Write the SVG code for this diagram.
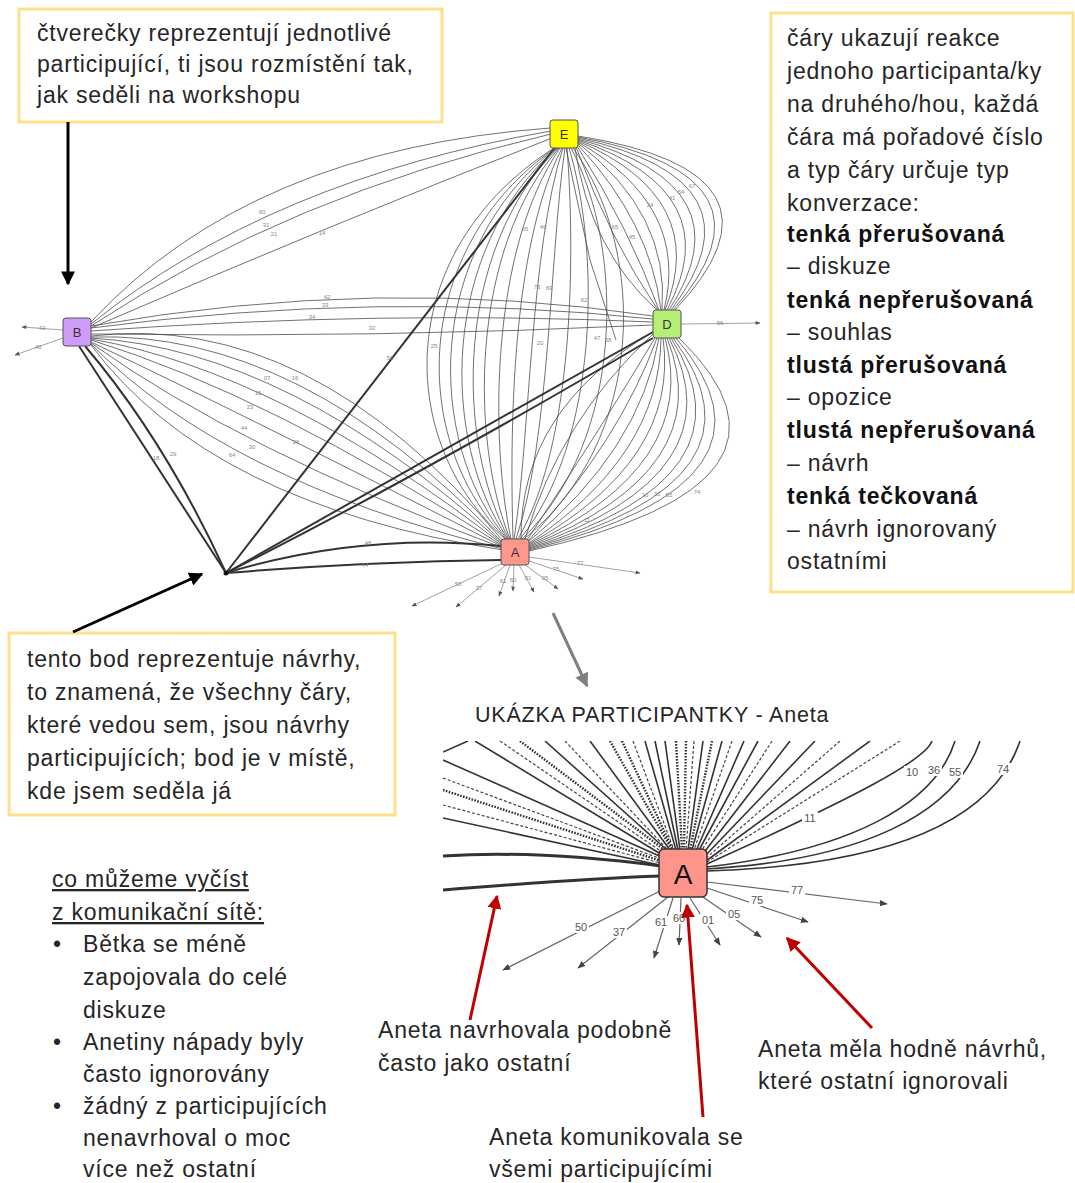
<svg xmlns="http://www.w3.org/2000/svg" width="1075" height="1183" viewBox="0 0 1075 1183">
  <defs>
    <style>
      .note { fill: #fff; stroke: #FFE08A; stroke-width: 3; }
      .txt { font-family: "Liberation Sans", Arial, sans-serif; font-size: 23px; letter-spacing: 0.8px; fill: #262626; }
      .b { font-weight: bold; fill: #111; }
      .e { fill: none; stroke: #444; stroke-width: 0.9; stroke-opacity: 0.85; }
      .et { fill: none; stroke: #333; stroke-width: 2; }
      .eo { fill: none; stroke: #888; stroke-width: 0.8; }
      .lbl { font-family: "Liberation Sans", Arial, sans-serif; font-size: 6px; fill: #888; text-anchor: middle; }
      .node { stroke: #555; stroke-width: 1; }
      .nl { font-family: "Liberation Sans", Arial, sans-serif; font-size: 13px; fill: #333; text-anchor: middle; }
      .ann { fill: none; stroke: #000; stroke-width: 3; }
      .red { fill: none; stroke: #C00000; stroke-width: 3; }
      .i { fill: none; stroke: #333; stroke-width: 1.6; }
      .id { fill: none; stroke: #333; stroke-width: 2.4; stroke-dasharray: 1.6 1.4; }
      .it { fill: none; stroke: #444; stroke-width: 1.2; stroke-dasharray: 3 2; }
      .io { fill: none; stroke: #666; stroke-width: 1.2; }
      .il { font-family: "Liberation Sans", Arial, sans-serif; font-size: 11px; fill: #555; text-anchor: middle; opacity: 0.99; }
      .ilb { fill: #fff; }
    </style>
    <marker id="ah" viewBox="0 0 10 10" refX="9" refY="5" markerWidth="14" markerHeight="14" markerUnits="userSpaceOnUse" orient="auto">
      <path d="M0,0 L10,5 L0,10 z" fill="#000"/>
    </marker>
    <marker id="ahr" viewBox="0 0 10 10" refX="9" refY="5" markerWidth="14" markerHeight="14" markerUnits="userSpaceOnUse" orient="auto">
      <path d="M0,0 L10,5 L0,10 z" fill="#C00000"/>
    </marker>
    <marker id="ahg" viewBox="0 0 10 10" refX="9" refY="5" markerWidth="14" markerHeight="14" markerUnits="userSpaceOnUse" orient="auto">
      <path d="M0,0 L10,5 L0,10 z" fill="#808080"/>
    </marker>
    <marker id="sm" viewBox="0 0 10 10" refX="9" refY="5" markerWidth="5" markerHeight="5" markerUnits="userSpaceOnUse" orient="auto">
      <path d="M0,1 L10,5 L0,9 z" fill="#555"/>
    </marker>
    <marker id="ism" viewBox="0 0 10 10" refX="9" refY="5" markerWidth="8" markerHeight="8" markerUnits="userSpaceOnUse" orient="auto">
      <path d="M0,1 L10,5 L0,9 z" fill="#444"/>
    </marker>
    <clipPath id="insetClip">
      <rect x="443" y="741" width="580" height="240"/>
    </clipPath>
  </defs>

  <rect width="1075" height="1183" fill="#fff"/>

  <!-- network connectors -->
  <g id="connectors">
    <!-- B to E, upper arcs -->
    <path class="e" d="M91,322 Q250,150 550,128"/>
    <path class="e" d="M91,324 Q270,180 551,131"/>
    <path class="e" d="M91,326 Q290,195 551,134"/>
    <path class="e" d="M91,328 Q330,225 552,138"/>
    <!-- B to D, long flat curves -->
    <path class="e" d="M91,326 Q380,275 653,316"/>
    <path class="e" d="M91,328 Q380,290 653,319"/>
    <path class="e" d="M91,331 Q380,310 653,322"/>
    <path class="e" d="M91,334 Q380,338 653,325"/>
    <!-- B to A -->
    <path class="e" d="M91,336 Q310,310 503,541"/>
    <path class="e" d="M91,337 Q300,330 503,543"/>
    <path class="e" d="M91,338 Q290,350 503,544"/>
    <path class="e" d="M91,339 Q280,372 503,545"/>
    <path class="e" d="M91,340 Q270,395 503,546"/>
    <path class="e" d="M91,342 Q255,420 503,547"/>
    <path class="e" d="M91,343 Q240,450 503,548"/>
    <path class="e" d="M91,344 Q225,480 503,549"/>
    <path class="e" d="M91,345 Q210,505 503,550"/>
    <!-- B to proposal point -->
    <path class="et" d="M79,346 L226,573"/>
    <path class="et" d="M85,346 Q165,440 226,573"/>
    <!-- B outgoing -->
    <path class="eo" d="M63,330 L22,327" marker-end="url(#sm)"/>
    <path class="eo" d="M63,338 L15,355" marker-end="url(#sm)"/>

    <!-- E to proposal point -->
    <path class="et" d="M556,146 L226,573"/>

    <!-- E to A -->
    <path class="e" d="M554,148 C394,250 394,440 505,539"/>
    <path class="e" d="M555,148 C410,250 410,440 506,539"/>
    <path class="e" d="M556,148 C425,250 425,440 507,539"/>
    <path class="e" d="M557,148 C440,250 440,440 508,539"/>
    <path class="e" d="M558,148 C455,250 455,440 509,539"/>
    <path class="e" d="M559,148 C470,250 470,440 510,539"/>
    <path class="e" d="M560,148 C490,250 490,440 511,539"/>
    <path class="e" d="M562,148 C510,250 510,440 513,539"/>
    <path class="e" d="M563,148 C530,250 530,440 514,539"/>
    <path class="e" d="M565,148 C550,250 550,440 516,539"/>
    <path class="e" d="M567,148 C575,250 575,440 518,539"/>
    <path class="e" d="M569,148 C600,250 600,440 520,539"/>
    <path class="e" d="M571,148 C625,250 625,440 522,539"/>
    <path class="e" d="M573,148 C647,250 647,440 524,539"/>
    <path class="e" d="M566,148 L590,260 L616,340"/>

    <!-- E to D -->
    <path class="e" d="M575,148 Q590,250 657,310"/>
    <path class="e" d="M576,147 Q610,240 658,310"/>
    <path class="e" d="M577,146 Q630,230 659,310"/>
    <path class="e" d="M578,145 Q650,222 661,310"/>
    <path class="e" d="M578,143 Q670,214 662,310"/>
    <path class="e" d="M578,142 Q690,206 664,310"/>
    <path class="e" d="M578,141 Q710,198 665,310"/>
    <path class="e" d="M578,140 Q730,192 667,310"/>
    <path class="e" d="M578,139 Q750,186 669,310"/>
    <path class="e" d="M578,138 Q770,180 671,310"/>
    <path class="e" d="M578,137 Q790,176 673,310"/>
    <path class="e" d="M578,136 Q805,172 675,310"/>

    <!-- D to A -->
    <path class="e" d="M655,338 Q600,430 527,540"/>
    <path class="e" d="M657,338 Q620,440 528,541"/>
    <path class="e" d="M659,338 Q640,450 528,542"/>
    <path class="e" d="M661,338 Q660,455 529,543"/>
    <path class="e" d="M663,338 Q680,460 529,544"/>
    <path class="e" d="M665,338 Q700,465 529,545"/>
    <path class="e" d="M667,338 Q720,470 529,546"/>
    <path class="e" d="M669,338 Q740,474 529,547"/>
    <path class="e" d="M671,338 Q760,478 529,548"/>
    <path class="e" d="M673,338 Q780,480 529,549"/>
    <path class="e" d="M676,338 Q800,482 529,550"/>
    <path class="e" d="M679,338 Q830,484 529,551"/>
    <path class="e" d="M653,334 Q560,420 525,539"/>
    <path class="e" d="M653,332 Q520,410 521,539"/>

    <!-- D to proposal point -->
    <path class="et" d="M653,332 L226,573"/>
    <path class="et" d="M653,338 Q430,470 226,573"/>
    <!-- D outgoing -->
    <path class="eo" d="M681,324 L760,323" marker-end="url(#sm)"/>

    <!-- A to proposal point -->
    <path class="et" d="M501,546 Q360,532 226,573"/>
    <path class="et" d="M501,560 Q360,562 226,573"/>

    <!-- A outgoing -->
    <path class="eo" d="M503,563 L412,606" marker-end="url(#sm)"/>
    <path class="eo" d="M506,565 L456,607" marker-end="url(#sm)"/>
    <path class="eo" d="M510,565 L499,596" marker-end="url(#sm)"/>
    <path class="eo" d="M514,565 L513,591" marker-end="url(#sm)"/>
    <path class="eo" d="M519,565 L534,592" marker-end="url(#sm)"/>
    <path class="eo" d="M524,564 L558,589" marker-end="url(#sm)"/>
    <path class="eo" d="M529,561 L583,579" marker-end="url(#sm)"/>
    <path class="eo" d="M529,557 L640,573" marker-end="url(#sm)"/>
    <circle cx="226" cy="573" r="2.5" fill="#111"/>
  </g>

  <!-- connector labels -->
  <g id="edge-labels">
    <text class="lbl" x="262" y="214">60</text>
    <text class="lbl" x="266" y="227">31</text>
    <text class="lbl" x="274" y="236">21</text>
    <text class="lbl" x="322" y="235">14</text>
    <text class="lbl" x="327" y="299">42</text>
    <text class="lbl" x="325" y="307">33</text>
    <text class="lbl" x="312" y="319">34</text>
    <text class="lbl" x="372" y="330">32</text>
    <text class="lbl" x="267" y="380">07</text>
    <text class="lbl" x="295" y="380">16</text>
    <text class="lbl" x="258" y="395">15</text>
    <text class="lbl" x="250" y="409">23</text>
    <text class="lbl" x="244" y="430">44</text>
    <text class="lbl" x="296" y="444">26</text>
    <text class="lbl" x="252" y="449">30</text>
    <text class="lbl" x="232" y="457">64</text>
    <text class="lbl" x="156" y="460">18</text>
    <text class="lbl" x="173" y="456">29</text>
    <text class="lbl" x="42" y="330">43</text>
    <text class="lbl" x="38" y="349">40</text>
    <text class="lbl" x="390" y="360">56</text>
    <text class="lbl" x="720" y="325">56</text>
    <text class="lbl" x="434" y="348">25</text>
    <text class="lbl" x="540" y="345">20</text>
    <text class="lbl" x="597" y="340">47</text>
    <text class="lbl" x="608" y="342">58</text>
    <text class="lbl" x="537" y="289">73</text>
    <text class="lbl" x="549" y="290">69</text>
    <text class="lbl" x="584" y="302">62</text>
    <text class="lbl" x="525" y="231">26</text>
    <text class="lbl" x="543" y="229">49</text>
    <text class="lbl" x="615" y="229">65</text>
    <text class="lbl" x="632" y="239">45</text>
    <text class="lbl" x="650" y="207">24</text>
    <text class="lbl" x="672" y="200">41</text>
    <text class="lbl" x="681" y="194">54</text>
    <text class="lbl" x="692" y="188">67</text>
    <text class="lbl" x="368" y="545">48</text>
    <text class="lbl" x="365" y="567">44</text>
    <text class="lbl" x="458" y="586">50</text>
    <text class="lbl" x="479" y="590">37</text>
    <text class="lbl" x="503" y="583">61</text>
    <text class="lbl" x="513" y="582">60</text>
    <text class="lbl" x="528" y="580">01</text>
    <text class="lbl" x="545" y="580">05</text>
    <text class="lbl" x="556" y="571">75</text>
    <text class="lbl" x="580" y="565">77</text>
    <text class="lbl" x="587" y="522">11</text>
    <text class="lbl" x="645" y="497">10</text>
    <text class="lbl" x="657" y="496">36</text>
    <text class="lbl" x="669" y="497">55</text>
    <text class="lbl" x="697" y="494">74</text>
  </g>

  <!-- participants -->
  <g id="node-B">
    <rect class="node" x="63" y="318" width="28" height="28" rx="3" fill="#D09CF8"/>
    <text class="nl" x="77" y="337">B</text>
  </g>
  <g id="node-E">
    <rect class="node" x="550" y="120" width="28" height="28" rx="3" fill="#FFFF00"/>
    <text class="nl" x="564" y="139">E</text>
  </g>
  <g id="node-D">
    <rect class="node" x="653" y="310" width="28" height="28" rx="3" fill="#B5EF76"/>
    <text class="nl" x="667" y="329">D</text>
  </g>
  <g id="node-A">
    <rect class="node" x="501" y="539" width="28" height="26" rx="3" fill="#FF978B"/>
    <text class="nl" x="515" y="557">A</text>
  </g>

  <!-- annotation boxes -->
  <g id="note-squares">
    <rect class="note" x="19" y="9" width="423" height="113"/>
    <text class="txt" x="37" y="41">čtverečky reprezentují jednotlivé</text>
    <text class="txt" x="37" y="72">participující, ti jsou rozmístění tak,</text>
    <text class="txt" x="37" y="103">jak seděli na workshopu</text>
  </g>

  <g id="note-lines">
    <rect class="note" x="771" y="13" width="302" height="579"/>
    <text class="txt" x="787" y="46">čáry ukazují reakce</text>
    <text class="txt" x="787" y="79">jednoho participanta/ky</text>
    <text class="txt" x="787" y="112">na druhého/hou,  každá</text>
    <text class="txt" x="787" y="145">čára má pořadové číslo</text>
    <text class="txt" x="787" y="178">a typ čáry určuje typ</text>
    <text class="txt" x="787" y="211">konverzace:</text>
    <text class="txt b" x="787" y="242">tenká přerušovaná</text>
    <text class="txt" x="787" y="274">– diskuze</text>
    <text class="txt b" x="787" y="308">tenká nepřerušovaná</text>
    <text class="txt" x="787" y="340">– souhlas</text>
    <text class="txt b" x="787" y="373">tlustá přerušovaná</text>
    <text class="txt" x="787" y="405">– opozice</text>
    <text class="txt b" x="787" y="438">tlustá nepřerušovaná</text>
    <text class="txt" x="787" y="471">– návrh</text>
    <text class="txt b" x="787" y="504">tenká tečkovaná</text>
    <text class="txt" x="787" y="537">– návrh ignorovaný</text>
    <text class="txt" x="787" y="569">ostatními</text>
  </g>

  <g id="note-point">
    <rect class="note" x="9" y="633" width="386" height="182"/>
    <text class="txt" x="27" y="667">tento bod reprezentuje návrhy,</text>
    <text class="txt" x="27" y="700">to znamená, že všechny čáry,</text>
    <text class="txt" x="27" y="733">které vedou sem, jsou návrhy</text>
    <text class="txt" x="27" y="766">participujících; bod je v místě,</text>
    <text class="txt" x="27" y="799">kde jsem seděla já</text>
  </g>

  <!-- annotation arrows -->
  <g id="annotation-arrows">
    <path class="ann" d="M68,122 L68,284" marker-end="url(#ah)"/>
    <path class="ann" d="M73,632 L202,574" marker-end="url(#ah)"/>
    <path fill="none" stroke="#808080" stroke-width="3" d="M553,613 L587,686" marker-end="url(#ahg)"/>
  </g>

  <!-- close-up of participant A -->
  <g id="inset">
    <text class="txt" x="475" y="722" style="font-size:21.5px">UKÁZKA PARTICIPANTKY - Aneta</text>
    <g clip-path="url(#insetClip)">
      <!-- lines from the left edge -->
      <path class="i" d="M443,752 L468,741"/>
      <path class="i" d="M443,760 L664,858"/>
      <path class="it" d="M443,778 L664,860"/>
      <path class="id" d="M443,790 L664,862"/>
      <path class="it" d="M443,805 L664,864"/>
      <path class="i" d="M443,818 L664,866"/>
      <!-- fan into the top of A -->
      <path class="i" d="M475,741 L664,856"/>
      <path class="it" d="M500,741 L665,854"/>
      <path class="id" d="M520,741 L667,852"/>
      <path class="i" d="M545,741 L668,851"/>
      <path class="it" d="M565,741 L669,851"/>
      <path class="i" d="M590,741 L670,850"/>
      <path class="id" d="M610,741 L672,850"/>
      <path class="id" d="M622,741 L673,850"/>
      <path class="it" d="M633,741 L674,850"/>
      <path class="i" d="M645,741 L676,850"/>
      <path class="i" d="M655,741 L678,850"/>
      <path class="i" d="M665,741 L680,850"/>
      <path class="id" d="M676,741 L682,850"/>
      <path class="id" d="M686,741 L684,850"/>
      <path class="it" d="M694,741 L686,850"/>
      <path class="i" d="M703,741 L688,850"/>
      <path class="id" d="M712,741 L690,850"/>
      <path class="i" d="M722,741 L692,850"/>
      <path class="it" d="M732,741 L694,850"/>
      <path class="i" d="M744,741 L696,851"/>
      <path class="i" d="M758,741 L698,852"/>
      <path class="it" d="M772,741 L700,853"/>
      <path class="i" d="M790,741 L702,855"/>
      <path class="i" d="M815,741 L704,857"/>
      <path class="it" d="M840,741 L705,859"/>
      <path class="i" d="M870,741 L706,861"/>
      <path class="it" d="M900,741 L707,862"/>
      <!-- curved lines entering from the right -->
      <path class="i" d="M932,741 C925,760 860,795 707,864"/>
      <path class="i" d="M955,741 C935,805 850,850 707,867"/>
      <path class="i" d="M980,741 C955,815 860,860 707,869"/>
      <path class="i" d="M1020,741 C990,830 870,866 707,871"/>
      <!-- thick lines from the left -->
      <path fill="none" stroke="#333" stroke-width="3" d="M443,856 C520,851 600,858 661,866"/>
      <path fill="none" stroke="#333" stroke-width="3" d="M443,890 C540,882 600,878 661,876"/>
      <!-- outgoing lines -->
      <path class="io" d="M662,890 L503,970" marker-end="url(#ism)"/>
      <path class="io" d="M668,897 L578,968" marker-end="url(#ism)"/>
      <path class="io" d="M673,898 L654,958" marker-end="url(#ism)"/>
      <path class="io" d="M681,898 L679,945" marker-end="url(#ism)"/>
      <path class="io" d="M690,898 L720,945" marker-end="url(#ism)"/>
      <path class="io" d="M700,895 L761,937" marker-end="url(#ism)"/>
      <path class="io" d="M707,888 L808,922" marker-end="url(#ism)"/>
      <path class="io" d="M707,882 L887,904" marker-end="url(#ism)"/>
    </g>
    <!-- label backgrounds -->
    <g class="ilb">
      <rect x="904" y="766" width="16" height="12"/>
      <rect x="926" y="764" width="16" height="12"/>
      <rect x="947" y="766" width="16" height="12"/>
      <rect x="995" y="763" width="16" height="12"/>
      <rect x="802" y="812" width="16" height="12"/>
      <rect x="789" y="884" width="16" height="12"/>
      <rect x="749" y="894" width="16" height="12"/>
      <rect x="726" y="908" width="16" height="12"/>
      <rect x="700" y="914" width="16" height="12"/>
      <rect x="671" y="912" width="16" height="12"/>
      <rect x="653" y="916" width="16" height="12"/>
      <rect x="611" y="926" width="16" height="12"/>
      <rect x="573" y="921" width="16" height="12"/>
    </g>
    <text class="il" x="912" y="776">10</text>
    <text class="il" x="934" y="774">36</text>
    <text class="il" x="955" y="776">55</text>
    <text class="il" x="1003" y="773">74</text>
    <text class="il" x="810" y="822">11</text>
    <text class="il" x="797" y="894">77</text>
    <text class="il" x="757" y="904">75</text>
    <text class="il" x="734" y="918">05</text>
    <text class="il" x="708" y="924">01</text>
    <text class="il" x="679" y="922">60</text>
    <text class="il" x="661" y="926">61</text>
    <text class="il" x="619" y="936">37</text>
    <text class="il" x="581" y="931">50</text>
    <g id="inset-node-A">
      <rect x="659" y="849" width="48" height="48" rx="5" fill="#FF948A" stroke="#333" stroke-width="1.5"/>
      <text x="683" y="884" font-family="Liberation Sans, Arial, sans-serif" font-size="28" fill="#111" text-anchor="middle">A</text>
    </g>
  </g>

  <!-- red pointers and their comments -->
  <g id="pointers">
    <path class="red" d="M470,1020 L497,896" marker-end="url(#ahr)"/>
    <path class="red" d="M703,1117 L687,905" marker-end="url(#ahr)"/>
    <path class="red" d="M872,1028 L787,938" marker-end="url(#ahr)"/>
  </g>
  <g id="comment-left">
    <text class="txt" x="378" y="1038">Aneta navrhovala podobně</text>
    <text class="txt" x="378" y="1071">často jako ostatní</text>
  </g>
  <g id="comment-middle">
    <text class="txt" x="489" y="1145">Aneta komunikovala se</text>
    <text class="txt" x="489" y="1177">všemi participujícími</text>
  </g>
  <g id="comment-right">
    <text class="txt" x="758" y="1057">Aneta měla hodně návrhů,</text>
    <text class="txt" x="758" y="1089">které ostatní ignorovali</text>
  </g>

  <!-- conclusions -->
  <g id="conclusions">
    <text class="txt" x="52" y="887" text-decoration="underline">co můžeme  vyčíst</text>
    <text class="txt" x="52" y="920" text-decoration="underline">z komunikační  sítě:</text>
    <text class="txt" x="53" y="952">•</text>
    <text class="txt" x="83" y="952">Bětka se méně</text>
    <text class="txt" x="83" y="985">zapojovala do celé</text>
    <text class="txt" x="83" y="1018">diskuze</text>
    <text class="txt" x="53" y="1050">•</text>
    <text class="txt" x="83" y="1050">Anetiny nápady byly</text>
    <text class="txt" x="83" y="1082">často ignorovány</text>
    <text class="txt" x="53" y="1114">•</text>
    <text class="txt" x="83" y="1114">žádný z participujících</text>
    <text class="txt" x="83" y="1146">nenavrhoval o moc</text>
    <text class="txt" x="83" y="1177">více než ostatní</text>
  </g>
</svg>
